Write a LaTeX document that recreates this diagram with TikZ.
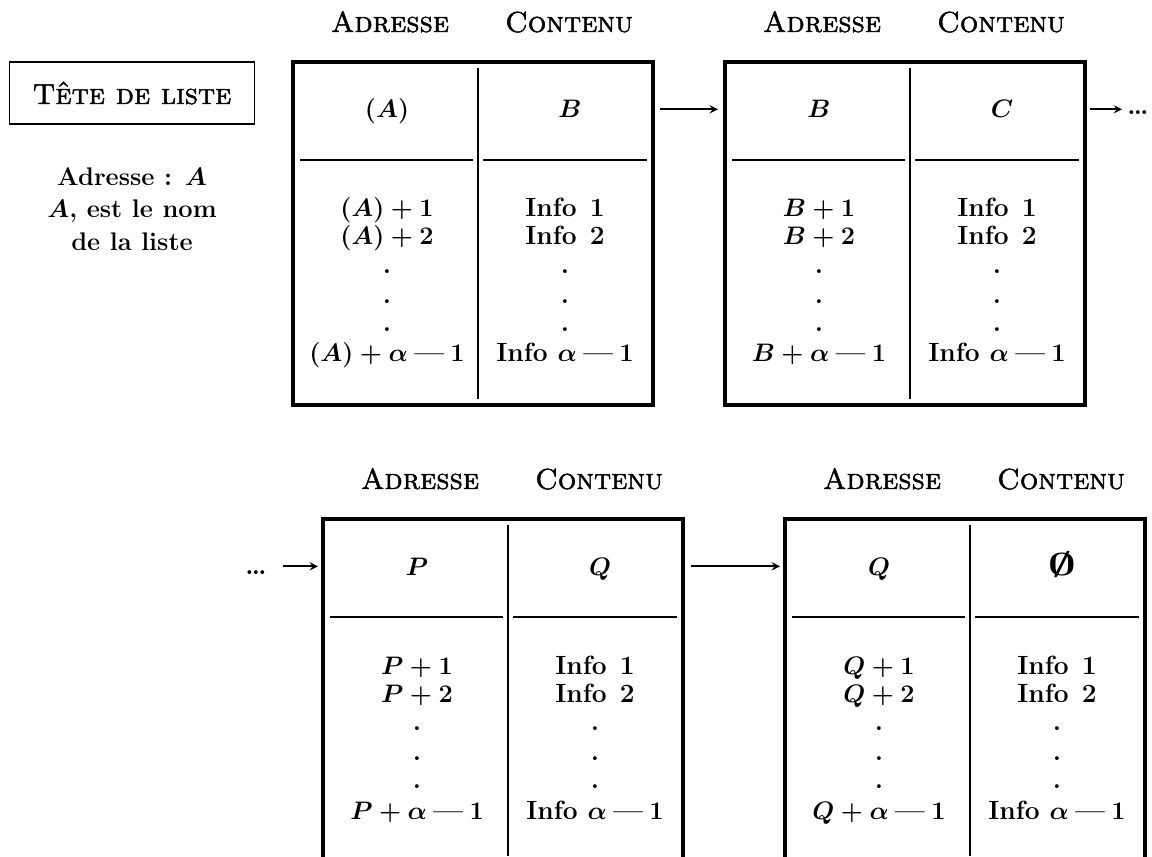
\documentclass[tikz,border=0pt]{standalone}
\usepackage{amsmath, amssymb, graphicx}
\usepackage{fontspec}
\newfontfamily\petitescaps{lmromancaps10-regular.otf}[FakeBold=1.6]
\usetikzlibrary{calc, positioning}

\tikzset{
  bloc/.style={draw, line width=1.9pt, minimum width=7.2cm, minimum height=6.86cm,
    inner sep=0pt, outer sep=0pt, anchor=north west},
  sep/.style={line width=1.1pt},
  trait/.style={line width=1.7pt},
  cellule/.style={anchor=base, inner sep=0pt, font=\fontsize{15}{18}\selectfont\bfseries\boldmath},
  titre/.style={anchor=base, inner sep=0pt, font=\fontsize{16.5}{18}\selectfont\petitescaps},
  point/.style={inner sep=0pt, font=\fontsize{15}{18}\selectfont\bfseries},
  fleche/.style={->, line width=1.1pt},
}

\newcommand{\moins}{\mathbin{\text{---}}}
\newcommand{\vide}{\text{\scalebox{1.9}[1.25]{$\emptyset$}}}

% one memory block: name, x, y, address, content
\newcommand{\bloc}[5]{%
  \begin{scope}[shift={(#2,#3)}]
    \node[bloc] (#1) at (0,0) {};
    \node[titre] (#1-ta) at (97,-30) {Adresse};
    \node[titre] (#1-tc) at (276,-30) {Contenu};
    \draw[sep] (185,6) -- (185,337);
    \draw[trait] (7,98) -- (180,98);
    \draw[trait] (190,98) -- (354,98);
    \node[cellule] (#1-a) at (94,56) {$#4$};
    \node[cellule] (#1-c) at (277,56) {$#5$};
    \node[cellule] (#1-a1) at (94,155) {$#4+1$};
    \node[cellule] (#1-a2) at (94,183) {$#4+2$};
    \node[cellule] (#1-an) at (94,300) {$#4+\alpha\moins1$};
    \node[cellule] (#1-c1) at (272,155) {Info\enspace1};
    \node[cellule] (#1-c2) at (272,183) {Info\enspace2};
    \node[cellule] (#1-cn) at (272,300) {Info $\alpha\moins1$};
    \foreach \y [count=\i] in {210,240,268} {
      \node[point] (#1-pa\i) at (94,\y) {.};
      \node[point] (#1-pc\i) at (272,\y) {.};
    }
  \end{scope}}

\begin{document}
\begin{tikzpicture}[>=stealth, x=0.02cm, y=-0.02cm]
  \useasboundingbox (0,0) rectangle (1152,857);
  \clip (0,0) rectangle (1152,857);

  % list head
  \node[draw, line width=0.9pt, minimum width=4.9cm, minimum height=1.24cm,
    font=\fontsize{16.5}{18}\selectfont\petitescaps] (tete) at (132,93) {Tête de liste};
  \node[align=center, font=\fontsize{14.5}{18.5}\selectfont\bfseries\boldmath] (nom)
    at (132,209) {Adresse : $A$\\ $A$, est le nom\\ de la liste};

  % blocks
  \bloc{b1}{293}{62}{(A)}{B}
  \bloc{b2}{725}{62}{B}{C}
  \bloc{b3}{323}{519}{P}{Q}
  \bloc{b4}{785}{519}{Q}{\vide}

  \node[point] (s1) at (1138,113) {\dots};
  \node[point] (s2) at (256,573) {\dots};

  % links
  \draw[fleche, shorten <=0.14cm, shorten >=0.14cm] (b1.east |- b1-c) -- (b2.west |- b2-a);
  \draw[fleche, shorten <=0.1cm, shorten >=0.1cm] (b2.east |- b2-c) -- (s1.west |- b2-c);
  \draw[fleche, shorten <=0.32cm, shorten >=0.1cm] (s2.east |- b3-a) -- (b3.west |- b3-a);
  \draw[fleche, shorten <=0.16cm, shorten >=0.1cm] (b3.east |- b3-a) -- (b4.west |- b3-a);
\end{tikzpicture}
\end{document}
